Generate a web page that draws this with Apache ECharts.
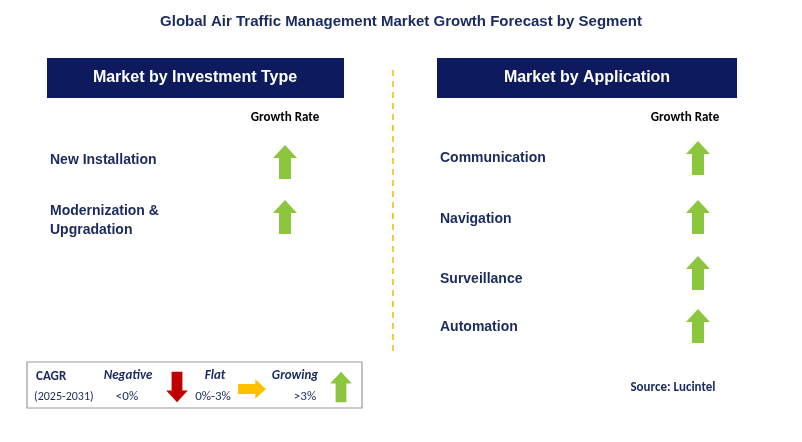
<!DOCTYPE html>
<html><head><meta charset="utf-8">
<script src="https://cdn.jsdelivr.net/npm/echarts@6/dist/echarts.min.js"></script>
<style>html,body{margin:0;padding:0;background:#fff}#c{width:802px;height:442px}</style>
</head><body><div id="c"></div>
<script>
const title = 'Global Air Traffic Management Market Growth Forecast by Segment';
const leftHeader = 'Market by Investment Type';
const rightHeader = 'Market by Application';
const leftCategories = ['New Installation', 'Modernization &\nUpgradation'];
const leftGrowth = ['up', 'up'];
const rightCategories = ['Communication', 'Navigation', 'Surveillance', 'Automation'];
const rightGrowth = ['up', 'up', 'up', 'up'];
const legendLabels = ['Negative', 'Flat', 'Growing'];
const legendRanges = ['<0%', '0%-3%', '>3%'];

const NAVY = '#0d1b5e', TXT = '#1a2a5e';
const COLORS = {up: '#8cc63f', down: '#c00000', flat: '#ffc000'};

function arrow(dir, cx, cy, s) {
  s = s || 1;
  const hw = 12*s, sw = 6*s, hh = 13*s, L = 17*s;
  let pts;
  if (dir === 'up') pts = [[0,-L],[hw,-L+hh],[sw,-L+hh],[sw,L],[-sw,L],[-sw,-L+hh],[-hw,-L+hh]];
  else if (dir === 'down') pts = [[0,L],[hw,L-hh],[sw,L-hh],[sw,-L],[-sw,-L],[-sw,L-hh],[-hw,L-hh]];
  else pts = [[L,0],[L-hh,-hw],[L-hh,-sw],[-L,-sw],[-L,sw],[L-hh,sw],[L-hh,hw]];
  return {type:'polygon', shape:{points: pts.map(p=>[cx+p[0], cy+p[1]])}, style:{fill: COLORS[dir]}};
}
function txt(t, x, y, o) {
  return {type:'text', x, y, style: Object.assign({text:t, fill:TXT, font:'bold 14px Arial, "Liberation Sans", sans-serif', textVerticalAlign:'middle'}, o||{})};
}

const els = [];
els.push(txt(title, 401, 22, {textAlign:'center', font:'bold 15px Arial, "Liberation Sans", sans-serif'}));
els.push({type:'rect', shape:{x:47,y:58,width:297,height:40}, style:{fill:NAVY}});
els.push({type:'rect', shape:{x:437,y:58,width:300,height:40}, style:{fill:NAVY}});
els.push(txt(leftHeader, 195, 78, {textAlign:'center', fill:'#fff', font:'bold 16px Arial, "Liberation Sans", sans-serif'}));
els.push(txt(rightHeader, 587, 78, {textAlign:'center', fill:'#fff', font:'bold 16px Arial, "Liberation Sans", sans-serif'}));
els.push({type:'line', shape:{x1:393,y1:70,x2:393,y2:356}, style:{stroke:'#f5b800', lineWidth:1.5, lineDash:[6,5]}});
els.push(txt('Growth Rate', 285, 118, {textAlign:'center', fill:'#000', font:'bold 13px Calibri, Carlito, Arial, sans-serif'}));
els.push(txt('Growth Rate', 685, 118, {textAlign:'center', fill:'#000', font:'bold 13px Calibri, Carlito, Arial, sans-serif'}));

const leftY = [160, 221], leftArrowY = [162, 217];
leftCategories.forEach((c,i)=>{
  els.push(txt(c, 50, leftY[i], {lineHeight:19}));
  els.push(arrow(leftGrowth[i], 285, leftArrowY[i]));
});
const rightY = [158, 219, 279, 327], rightArrowY = [158, 217, 273, 326];
rightCategories.forEach((c,i)=>{
  els.push(txt(c, 440, rightY[i]));
  els.push(arrow(rightGrowth[i], 698, rightArrowY[i]));
});

// legend box
els.push({type:'rect', shape:{x:27,y:362,width:335,height:46}, style:{fill:'#fff', stroke:'#999', lineWidth:1.2}});
els.push(txt('CAGR', 36, 377, {font:'bold 13px Calibri, Carlito, Arial, sans-serif'}));
els.push(txt('(2025-2031)', 34, 397, {font:'12px Calibri, Carlito, Arial, sans-serif'}));
const lgX = [128, 215, 295], lgDir = ['down','flat','up'], lgArrowX = [177, 252, 341];
legendLabels.forEach((l,i)=>{
  els.push(txt(l, lgX[i], 376, {textAlign:'center', font:'italic bold 13px Calibri, Carlito, Arial, sans-serif'}));
  els.push(txt(legendRanges[i], lgX[i]+(i==0?-1:i==1?-2:10), 397, {textAlign:'center', font:'13px Calibri, Carlito, Arial, sans-serif'}));
  els.push(arrow(lgDir[i], lgArrowX[i], i==1?389:387, i==1?0.82:0.9));
});
els.push(txt('Source: Lucintel', 673, 388, {textAlign:'center', font:'bold 13px Calibri, Carlito, Arial, sans-serif'}));

const chart = echarts.init(document.getElementById('c'));
chart.setOption({animation:false, backgroundColor:'#fff', graphic:{elements:els}});
</script></body></html>
